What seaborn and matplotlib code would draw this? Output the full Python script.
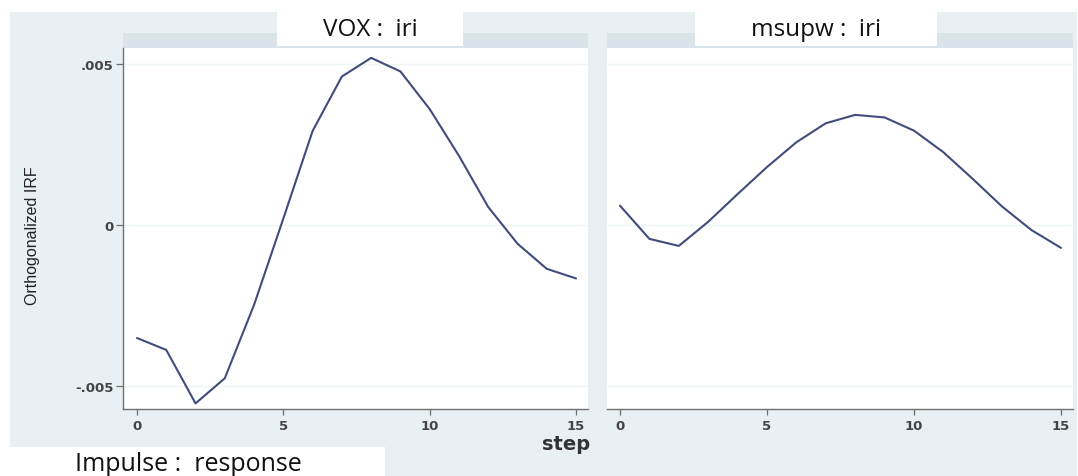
import matplotlib
matplotlib.use("Agg")
import matplotlib.pyplot as plt
from matplotlib.patches import Rectangle
import seaborn as sns
import pandas as pd

steps = list(range(16))
vox_iri = [-0.00351, -0.00388, -0.00554, -0.00476, -0.00248, 0.00020, 0.00292,
           0.00461, 0.00519, 0.00477, 0.00360, 0.00215, 0.00056, -0.00058,
           -0.00136, -0.00166]
msupw_iri = [0.00060, -0.00043, -0.00065, 0.00010, 0.00096, 0.00180, 0.00257,
             0.00316, 0.00342, 0.00334, 0.00293, 0.00226, 0.00143, 0.00057,
             -0.00016, -0.00071]
panel_titles = ["VOX :  iri", "msupw :  iri"]
ytick_vals = [-0.005, 0.0, 0.005]
ytick_labels = ["-.005", "0", ".005"]
xtick_vals = [0, 5, 10, 15]

W, H = 1078, 477
sns.set_style("white")
plt.rcParams['font.family'] = ['DejaVu Sans']

fig = plt.figure(figsize=(W / 100, H / 100), dpi=100)
fig.patch.set_facecolor("white")

OUTER = "#e8f0f3"
STRIP = "#d8e4ea"
LINE = "#414c7c"
AXC = "#707070"


def fx(px):
    return px / W


def fy(py):
    return 1 - py / H


def rect(x0, y0, x1, y1, color, z=0):
    fig.patches.append(Rectangle((fx(x0), fy(y1)), fx(x1) - fx(x0), fy(y0) - fy(y1),
                                 transform=fig.transFigure, facecolor=color,
                                 edgecolor="none", zorder=z))


# outer light background
rect(10, 13, 1077, 448, OUTER, z=0)
rect(385, 448, 1077, 477, OUTER, z=0)
# strips
rect(123, 34, 588, 49, STRIP, z=0.5)
rect(607, 34, 1073, 49, STRIP, z=0.5)
# title boxes
rect(277, 13, 463, 47, "white", z=3)
rect(695, 13, 937, 47, "white", z=3)

df = pd.DataFrame({"step": steps * 2,
                   "irf": vox_iri + msupw_iri,
                   "panel": ["VOX"] * 16 + ["msupw"] * 16})

panels = [("VOX", 123, 588, 137, 576), ("msupw", 607, 1073, 620, 1061)]
ytop_px, ybot_px = 49, 410
y0_px, y005_px = 226, 65
per = 0.005 / (y0_px - y005_px)
ylim = (-(ybot_px - y0_px) * per, (y0_px - ytop_px) * per)

for i, (name, l, r, x0p, x15p) in enumerate(panels):
    ax = fig.add_axes([fx(l), fy(ybot_px), fx(r) - fx(l), fy(ytop_px) - fy(ybot_px)])
    ax.set_zorder(2)
    ax.set_facecolor("white")
    sub = df[df["panel"] == name]
    sns.lineplot(data=sub, x="step", y="irf", ax=ax, color=LINE, linewidth=1.5)
    pps = (x15p - x0p) / 15
    ax.set_xlim(-(x0p - l) / pps, 15 + (r - x15p) / pps)
    ax.set_ylim(*ylim)
    for yv in ytick_vals:
        ax.axhline(yv, color="#edf5f5", linewidth=1.0, zorder=0)
    ax.set_xticks(xtick_vals)
    ax.set_xticklabels([str(v) for v in xtick_vals])
    ax.tick_params(axis="x", direction="out", length=4, width=0.9, color=AXC,
                   labelsize=9.5, labelcolor="#444444", pad=3, bottom=True)
    ax.set_xlabel("")
    ax.set_ylabel("")
    for s in ["top", "right"]:
        ax.spines[s].set_visible(False)
    ax.spines["bottom"].set_color(AXC)
    ax.spines["bottom"].set_linewidth(1.0)
    if i == 0:
        ax.set_yticks(ytick_vals)
        ax.set_yticklabels(ytick_labels)
        ax.tick_params(axis="y", direction="out", length=5, width=0.9, color=AXC,
                       labelsize=9.5, labelcolor="#444444", pad=2, left=True)
        ax.spines["left"].set_color(AXC)
        ax.spines["left"].set_linewidth(1.0)
    else:
        ax.set_yticks([])
        ax.spines["left"].set_visible(False)
    for t in ax.get_xticklabels() + ax.get_yticklabels():
        t.set_fontweight("bold")
    ax.grid(False)

# titles
fig.text(fx(370), fy(30), panel_titles[0], ha="center", va="center",
         fontsize=17.5, family=["Open Sans", "DejaVu Sans"], color="#111111", zorder=4)
fig.text(fx(816), fy(30), panel_titles[1], ha="center", va="center",
         fontsize=17.5, family=["Open Sans", "DejaVu Sans"], color="#111111", zorder=4)

# y label
fig.text(fx(33), fy(236), "Orthogonalized IRF", rotation=90, ha="center", va="center",
         fontsize=11.5, family=["Liberation Sans", "DejaVu Sans"], color="#222222", zorder=4)
# x label
fig.text(fx(590), fy(445), "step", ha="right", va="center", fontsize=14,
         fontweight="bold", color="#333333", zorder=4)
# bottom note
fig.text(fx(75), fy(465), "Impulse :  response", ha="left", va="center",
         fontsize=18, family=["Open Sans", "DejaVu Sans"], color="#111111", zorder=4)

fig.savefig("out.png", dpi=100, facecolor="white")
